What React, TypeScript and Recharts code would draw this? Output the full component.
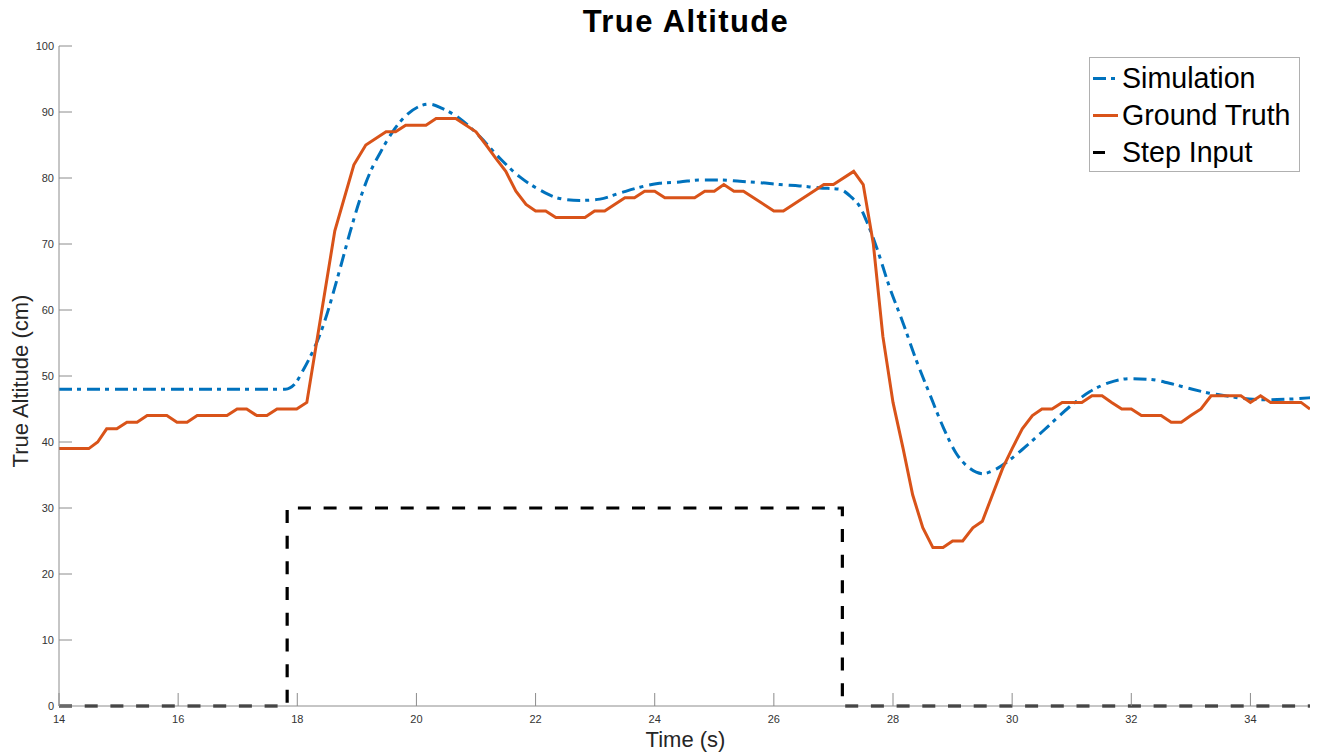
import React from "react";
import { LineChart, Line, XAxis, YAxis, Legend } from "recharts";

// Simulation (dash-dot blue) – time (s) / altitude (cm)
const SIM_T = [
  14, 17.8, 17.95, 18.1, 18.43, 18.71, 18.88, 19.05, 19.22, 19.39, 19.6, 19.83,
  20.06, 20.22, 20.44, 20.73, 21.06, 21.4, 21.73, 22.07, 22.4, 22.74, 23.08,
  23.41, 23.75, 24.08, 24.42, 24.75, 25.09, 25.43, 25.76, 26.1, 26.43, 26.77,
  27.1, 27.3, 27.44, 27.55, 27.72, 27.94, 28.17, 28.39, 28.61, 28.84, 29.06,
  29.29, 29.51, 29.73, 29.96, 30.29, 30.63, 30.96, 31.3, 31.63, 31.97, 32.3,
  32.64, 32.98, 33.31, 33.65, 33.98, 34.32, 34.66, 35,
];
const SIM_ALT = [
  48, 48, 48.7, 50.9, 57.5, 66, 71.6, 76.7, 80.8, 83.8, 87, 89.5,
  90.9, 91.2, 90.5, 89, 86.3, 83, 80.2, 78.2, 76.9, 76.6, 76.8,
  77.7, 78.6, 79.2, 79.4, 79.7, 79.7, 79.5, 79.3, 79.0, 78.8, 78.5,
  78.3, 77.1, 75.7, 73.6, 69.6, 63.5, 58, 52.4, 47.4, 42.3, 38.3,
  36, 35.2, 35.9, 37.3, 39.8, 42.6, 45.3, 47.6, 49, 49.6, 49.5,
  48.9, 48.1, 47.4, 46.9, 46.5, 46.4, 46.5, 46.7,
];

// Ground truth (solid orange)
const GT_T = [
  14, 14.5, 14.65, 14.8, 14.97, 15.14, 15.31, 15.48, 15.81, 15.98, 16.15, 16.32,
  16.82, 16.99, 17.15, 17.32, 17.49, 17.66, 17.99, 18.16, 18.63, 18.95, 19.15,
  19.49, 19.65, 19.82, 20.16, 20.33, 20.66, 21.0, 21.17, 21.33, 21.5, 21.67,
  21.84, 22.0, 22.17, 22.34, 22.83, 22.99, 23.16, 23.5, 23.66, 23.83, 24.0,
  24.17, 24.67, 24.84, 25.0, 25.16, 25.33, 25.49, 26.0, 26.16, 26.84, 27.0,
  27.34, 27.5, 27.67, 27.83, 28.0, 28.17, 28.33, 28.5, 28.67, 28.84, 29.0,
  29.17, 29.34, 29.5, 29.67, 29.84, 30.0, 30.17, 30.34, 30.5, 30.67, 30.84,
  31.17, 31.34, 31.51, 31.67, 31.84, 32.0, 32.17, 32.5, 32.67, 32.84, 33.0,
  33.17, 33.34, 33.84, 34.0, 34.17, 34.34, 34.85, 35,
];
const GT_ALT = [
  39, 39, 40, 42, 42, 43, 43, 44, 44, 43, 43, 44,
  44, 45, 45, 44, 44, 45, 45, 46, 72, 82, 85,
  87, 87, 88, 88, 89, 89, 87, 85, 83, 81, 78,
  76, 75, 75, 74, 74, 75, 75, 77, 77, 78, 78,
  77, 77, 78, 78, 79, 78, 78, 75, 75, 79, 79,
  81, 79, 70, 56, 46, 39, 32, 27, 24, 24, 25,
  25, 27, 28, 32, 36, 39, 42, 44, 45, 45, 46,
  46, 47, 47, 46, 45, 45, 44, 44, 43, 43, 44,
  45, 47, 47, 46, 47, 46, 46, 45,
];

// Step input (dashed black)
const STEP_T = [14, 17.83, 17.83, 27.15, 27.15, 35];
const STEP_IN = [0, 0, 30, 30, 0, 0];

const X_TICKS = [14, 16, 18, 20, 22, 24, 26, 28, 30, 32, 34];
const Y_TICKS = [0, 10, 20, 30, 40, 50, 60, 70, 80, 90, 100];

const SERIES = [
  { name: "Simulation", color: "#0072BD", dash: "13 5 4 6", len: 22 },
  { name: "Ground Truth", color: "#D95319", dash: undefined, len: 25 },
  { name: "Step Input", color: "#000000", dash: undefined, len: 12 },
];

const simData = SIM_T.map((t, i) => ({ t, v: SIM_ALT[i] }));
const gtData = GT_T.map((t, i) => ({ t, v: GT_ALT[i] }));
const stepData = STEP_T.map((t, i) => ({ t, v: STEP_IN[i] }));

const FONT = "'Liberation Sans', Arial, Helvetica, sans-serif";
const AXIS_GREY = "#8c8c8c";

function XTick(props: any) {
  const { x, y, payload } = props;
  return (
    <g>
      <line x1={x} x2={x} y1={y} y2={y - 13} stroke={AXIS_GREY} strokeWidth={1} />
      <text x={x} y={y + 17} textAnchor="middle" fontSize={11} fontFamily={FONT} fill="#333">
        {payload.value}
      </text>
    </g>
  );
}

function YTick(props: any) {
  const { x, y, payload } = props;
  return (
    <g>
      <line x1={x} x2={x + 13} y1={y} y2={y} stroke={AXIS_GREY} strokeWidth={1} />
      <text x={x - 5} y={y + 4} textAnchor="end" fontSize={11} fontFamily={FONT} fill="#333">
        {payload.value}
      </text>
    </g>
  );
}

function LegendBox() {
  return (
    <div
      style={{
        width: 209,
        height: 113,
        border: "1px solid #b0b0b0",
        background: "#fff",
        fontFamily: FONT,
        fontSize: 28.6,
        color: "#000",
        position: "relative",
      }}
    >
      {SERIES.map((s, i) => (
        <div
          key={s.name}
          style={{ position: "absolute", left: 0, top: 2 + i * 37, height: 37, display: "flex", alignItems: "center" }}
        >
          <svg width={32} height={37} style={{ display: "block" }}>
            <line
              x1={3}
              x2={3 + s.len}
              y1={18.5}
              y2={18.5}
              stroke={s.color}
              strokeWidth={3}
              strokeDasharray={s.dash}
            />
          </svg>
          <span style={{ lineHeight: "37px", whiteSpace: "nowrap" }}>{s.name}</span>
        </div>
      ))}
    </div>
  );
}

export default function App() {
  return (
    <div style={{ position: "absolute", left: 0, top: 0, width: 1317, height: 756, background: "#fff" }}>
      <LineChart
        width={1317}
        height={756}
        margin={{ top: 46, right: 7, left: 0, bottom: 0 }}
      >
        <XAxis
          dataKey="t"
          type="number"
          domain={[14, 35]}
          ticks={X_TICKS}
          allowDataOverflow
          height={50}
          tickSize={0}
          tickMargin={0}
          tickLine={false}
          tick={<XTick />}
          axisLine={{ stroke: AXIS_GREY }}
        />
        <YAxis
          type="number"
          domain={[0, 100]}
          ticks={Y_TICKS}
          width={59}
          tickSize={0}
          tickMargin={0}
          tickLine={false}
          tick={<YTick />}
          axisLine={{ stroke: AXIS_GREY }}
        />
        <Legend
          layout="vertical"
          align="center"
          verticalAlign="middle"
          wrapperStyle={{ position: "absolute", left: 1089, top: 57, width: 211, height: 115 }}
          content={() => <LegendBox />}
        />
        <Line
          data={simData}
          dataKey="v"
          name="Simulation"
          type="monotone"
          stroke="#0072BD"
          strokeWidth={3}
          strokeDasharray="13 5 4 6"
          dot={false}
          activeDot={false}
          isAnimationActive={false}
        />
        <Line
          data={gtData}
          dataKey="v"
          name="Ground Truth"
          type="linear"
          stroke="#D95319"
          strokeWidth={3}
          dot={false}
          activeDot={false}
          isAnimationActive={false}
        />
        <Line
          data={stepData}
          dataKey="v"
          name="Step Input"
          type="linear"
          stroke="#000000"
          strokeWidth={3.2}
          strokeDasharray="13 12.7"
          dot={false}
          activeDot={false}
          isAnimationActive={false}
        />
      </LineChart>
      <div
        style={{
          position: "absolute",
          left: 0,
          width: 1372,
          top: 4,
          textAlign: "center",
          fontFamily: FONT,
          fontWeight: "bold",
          fontSize: 31,
          letterSpacing: 1.4,
          color: "#000",
        }}
      >
        True Altitude
      </div>
      <div
        style={{
          position: "absolute",
          left: 0,
          width: 1371,
          top: 727,
          textAlign: "center",
          fontFamily: FONT,
          fontSize: 22,
          color: "#262626",
        }}
      >
        Time (s)
      </div>
      <div
        style={{
          position: "absolute",
          left: 21,
          top: 381,
          transform: "translate(-50%, -50%) rotate(-90deg)",
          fontFamily: FONT,
          fontSize: 22,
          color: "#262626",
          whiteSpace: "nowrap",
        }}
      >
        True Altitude (cm)
      </div>
    </div>
  );
}
